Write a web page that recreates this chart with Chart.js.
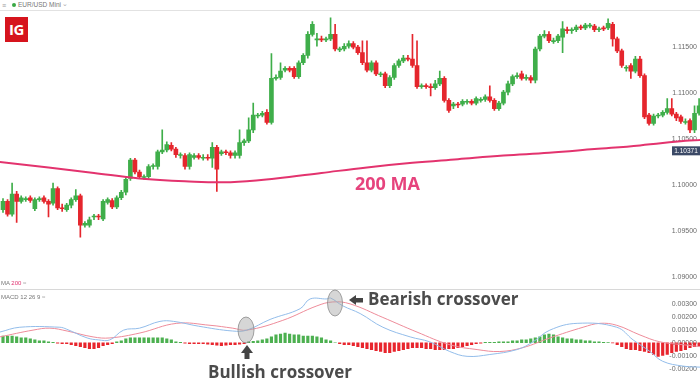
<!DOCTYPE html>
<html><head><meta charset="utf-8">
<script src="https://cdn.jsdelivr.net/npm/chart.js@4.4.1/dist/chart.umd.min.js"></script>
<style>
*{box-sizing:border-box}
html,body{margin:0;padding:0;background:#fff}
#wrap{position:relative;width:700px;height:379px;overflow:hidden;font-family:"Open Sans",Arial,sans-serif}
#cMain{position:absolute;left:0;top:11px}
#cMacd{position:absolute;left:0;top:290px}
.hdr{position:absolute;left:0;top:0;width:700px;height:11px;border-bottom:1px solid #e2e2e2}
.tiny{position:absolute;font-family:"Liberation Sans",Arial,sans-serif;font-size:6.5px;color:#777;white-space:nowrap;line-height:1}
.sep{position:absolute;left:0;top:289px;width:700px;height:1px;background:#d8d8d8}
.logo{position:absolute;left:5px;top:17px;width:23px;height:25px;background:#d6141d;color:#fff;font-family:"Open Sans",Arial,sans-serif;font-weight:700;font-size:15px;line-height:25px;text-align:center;letter-spacing:-0.5px}
.ann{position:absolute;font-family:"Open Sans",Arial,sans-serif;font-weight:700;line-height:1;white-space:nowrap}
svg{position:absolute;left:0;top:0}
</style></head>
<body><div id="wrap">
<div class="hdr"></div>
<div class="tiny" style="left:2px;top:2px;font-size:7px;color:#999">&#8801;</div>
<div style="position:absolute;left:12px;top:3px;width:4px;height:4px;border-radius:2px;background:#3aa845"></div>
<div class="tiny" style="left:18px;top:2px">EUR/USD Mini</div>
<div class="tiny" style="left:62px;top:1px;color:#aaa">&#8964;</div>
<div class="logo">IG</div>
<canvas id="cMain" width="700" height="278"></canvas>
<div class="sep"></div>
<canvas id="cMacd" width="700" height="89"></canvas>
<div class="tiny" style="left:1px;top:280px;font-size:6px">MA <span style="color:#e0336f">200</span> <span style="color:#aaa">&#8776;</span></div>
<div class="tiny" style="left:1px;top:294px;font-size:6px">MACD 12 26 9 <span style="color:#aaa">&#8776;</span></div>
<div class="ann" style="left:355px;top:174px;font-size:18px;color:#e6437d">200 MA</div>
<div class="ann" style="left:368px;top:290px;font-size:17px;color:#4b4b4b">Bearish crossover</div>
<div class="ann" style="left:208px;top:363px;font-size:17px;color:#4b4b4b">Bullish crossover</div>
<svg width="700" height="379">
<ellipse cx="246" cy="330" rx="8" ry="13" fill="rgba(165,165,165,0.45)" stroke="#8c8c8c" stroke-width="0.8"/>
<ellipse cx="335" cy="303" rx="7.5" ry="13" fill="rgba(165,165,165,0.45)" stroke="#8c8c8c" stroke-width="0.8"/>
<polygon points="241,353 247,345 253,353" fill="#444"/>
<rect x="244.5" y="352" width="5" height="7" fill="#444"/>
<polygon points="349,300 356,295 356,305" fill="#444"/>
<rect x="355" y="298" width="8" height="4.5" fill="#444"/>
</svg>
</div>
<script>
// ---- price data (EUR/USD) ----
const open = [
1.0973,1.0982,1.0968,1.0990,1.0982,1.0984,1.0986,1.0974,1.0984,1.0986,
1.0982,1.0980,1.0996,1.0975,1.0973,1.0978,1.0984,1.0988,1.0956,1.0956,
1.0965,1.0966,1.0963,1.0981,1.0983,1.0976,1.0986,1.0992,1.1007,1.1027,
1.1014,1.1008,1.1009,1.1020,1.1020,1.1036,1.1038,1.1043,1.1039,1.1032,
1.1032,1.1020,1.1030,1.1032,1.1029,1.1030,1.1029,1.1041,1.1034,1.1036,
1.1035,1.1032,1.1032,1.1046,1.1048,1.1060,1.1075,1.1076,1.1079,1.1068,
1.1116,1.1117,1.1125,1.1127,1.1127,1.1118,1.1133,1.1141,1.1164,1.1158,
1.1159,1.1158,1.1159,1.1164,1.1147,1.1148,1.1151,1.1154,1.1150,1.1144,
1.1133,1.1125,1.1133,1.1120,1.1121,1.1108,1.1117,1.1130,1.1135,1.1138,
1.1137,1.1130,1.1107,1.1108,1.1107,1.1106,1.1110,1.1116,1.1092,1.1086,
1.1088,1.1088,1.1090,1.1091,1.1089,1.1092,1.1093,1.1096,1.1092,1.1083,
1.1089,1.1101,1.1110,1.1118,1.1121,1.1116,1.1117,1.1114,1.1148,1.1162,
1.1164,1.1156,1.1157,1.1161,1.1169,1.1168,1.1169,1.1172,1.1171,1.1173,
1.1173,1.1169,1.1171,1.1171,1.1175,1.1159,1.1146,1.1127,1.1130,1.1124,
1.1137,1.1119,1.1076,1.1067,1.1075,1.1076,1.1079,1.1083,1.1077,1.1074,
1.1068,1.1070,1.1060,1.1078];
const high = [
1.0985,1.0984,1.1002,1.0993,1.0988,1.0987,1.0988,1.0986,1.0987,1.0988,
1.0984,1.1002,1.0998,1.0979,1.0980,1.0986,1.0995,1.0990,1.0960,1.0965,
1.0968,1.0968,1.0984,1.0986,1.0985,1.0988,1.0994,1.1008,1.1029,1.1029,
1.1016,1.1011,1.1022,1.1023,1.1038,1.1060,1.1047,1.1046,1.1041,1.1035,
1.1034,1.1035,1.1034,1.1034,1.1033,1.1033,1.1046,1.1043,1.1038,1.1038,
1.1037,1.1037,1.1060,1.1050,1.1073,1.1089,1.1078,1.1080,1.1082,1.1143,
1.1120,1.1133,1.1129,1.1129,1.1129,1.1135,1.1143,1.1167,1.1178,1.1165,
1.1162,1.1161,1.1182,1.1175,1.1150,1.1154,1.1157,1.1156,1.1152,1.1157,
1.1157,1.1135,1.1135,1.1123,1.1123,1.1119,1.1132,1.1137,1.1141,1.1141,
1.1164,1.1157,1.1110,1.1110,1.1110,1.1114,1.1124,1.1118,1.1094,1.1090,
1.1090,1.1093,1.1093,1.1093,1.1096,1.1095,1.1098,1.1108,1.1094,1.1091,
1.1103,1.1113,1.1120,1.1122,1.1124,1.1120,1.1119,1.1150,1.1164,1.1168,
1.1167,1.1160,1.1164,1.1178,1.1172,1.1171,1.1174,1.1174,1.1176,1.1176,
1.1175,1.1172,1.1173,1.1181,1.1177,1.1161,1.1148,1.1130,1.1132,1.1140,
1.1140,1.1121,1.1078,1.1077,1.1078,1.1081,1.1094,1.1094,1.1079,1.1076,
1.1072,1.1072,1.1086,1.1094];
const low = [
1.0970,1.0966,1.0966,1.0959,1.0980,1.0982,1.0981,1.0972,1.0982,1.0980,
1.0965,1.0978,1.0973,1.0971,1.0971,1.0975,1.0982,1.0943,1.0954,1.0954,
1.0962,1.0962,1.0961,1.0979,1.0974,1.0974,1.0984,1.0989,1.1005,1.1012,
1.1007,1.1006,1.1007,1.1017,1.1017,1.1034,1.1036,1.1037,1.1030,1.1029,
1.1017,1.1017,1.1028,1.1028,1.1027,1.1027,1.1019,1.0993,1.1032,1.1033,
1.1029,1.1029,1.1029,1.1043,1.1046,1.1057,1.1073,1.1074,1.1066,1.1066,
1.1114,1.1115,1.1123,1.1123,1.1116,1.1116,1.1131,1.1138,1.1162,1.1151,
1.1156,1.1156,1.1157,1.1146,1.1145,1.1146,1.1149,1.1148,1.1142,1.1131,
1.1123,1.1123,1.1119,1.1118,1.1106,1.1106,1.1115,1.1128,1.1133,1.1135,
1.1128,1.1105,1.1105,1.1105,1.1097,1.1104,1.1108,1.1090,1.1079,1.1083,
1.1084,1.1086,1.1088,1.1087,1.1087,1.1090,1.1091,1.1090,1.1081,1.1081,
1.1087,1.1098,1.1108,1.1116,1.1114,1.1114,1.1111,1.1111,1.1146,1.1160,
1.1155,1.1154,1.1155,1.1144,1.1165,1.1165,1.1167,1.1169,1.1169,1.1171,
1.1167,1.1167,1.1168,1.1169,1.1151,1.1144,1.1128,1.1124,1.1116,1.1122,
1.1117,1.1072,1.1065,1.1065,1.1073,1.1074,1.1077,1.1075,1.1070,1.1067,
1.1066,1.1057,1.1057,1.1076];
const close = [
1.0982,1.0968,1.0990,1.0982,1.0986,1.0985,1.0983,1.0984,1.0985,1.0982,
1.0979,1.0996,1.0975,1.0974,1.0978,1.0984,1.0988,1.0956,1.0958,1.0962,
1.0966,1.0965,1.0982,1.0984,1.0976,1.0986,1.0992,1.1006,1.1027,1.1014,
1.1009,1.1009,1.1020,1.1021,1.1036,1.1038,1.1044,1.1039,1.1033,1.1033,
1.1020,1.1033,1.1032,1.1030,1.1030,1.1029,1.1041,1.1017,1.1036,1.1035,
1.1032,1.1035,1.1046,1.1048,1.1060,1.1076,1.1076,1.1078,1.1068,1.1116,
1.1117,1.1124,1.1127,1.1125,1.1118,1.1133,1.1141,1.1164,1.1175,1.1159,
1.1158,1.1159,1.1164,1.1148,1.1148,1.1151,1.1154,1.1150,1.1144,1.1133,
1.1125,1.1133,1.1121,1.1121,1.1108,1.1117,1.1130,1.1135,1.1138,1.1137,
1.1130,1.1107,1.1108,1.1107,1.1106,1.1110,1.1116,1.1092,1.1081,1.1088,
1.1087,1.1091,1.1091,1.1089,1.1094,1.1093,1.1096,1.1092,1.1083,1.1089,
1.1101,1.1110,1.1118,1.1119,1.1116,1.1117,1.1114,1.1148,1.1162,1.1164,
1.1157,1.1157,1.1162,1.1170,1.1168,1.1169,1.1172,1.1171,1.1174,1.1174,
1.1169,1.1170,1.1170,1.1176,1.1159,1.1146,1.1130,1.1128,1.1124,1.1137,
1.1119,1.1074,1.1067,1.1075,1.1076,1.1079,1.1083,1.1077,1.1073,1.1069,
1.1069,1.1060,1.1078,1.1086];
// 200-period moving average, read at sample candles
const maIndex = [-0.7,10,20,30,40,50,60,70,80,90,100,110,120,130,140,150,153.3];
const maValue = [1.1025,1.1019,1.1013,1.1007,1.1004,1.1003,1.1007,1.1013,1.1019,1.1024,1.1028,1.1032,1.1035,1.1039,1.1043,1.1048,1.1049];
const priceTicks = [1.09,1.095,1.10,1.105,1.11,1.115];
const lastPrice = 1.10371;
// ---- MACD (12, 26, 9) ----
const histogram = [
0.00052,0.00052,0.00052,0.00045,0.00037,0.00037,0.00030,0.00022,0.00015,0.00015,
0.00007,0.00004,-0.00004,-0.00007,-0.00007,-0.00015,-0.00022,-0.00030,-0.00037,-0.00045,
-0.00045,-0.00037,-0.00022,-0.00015,-0.00007,0.00007,0.00015,0.00030,0.00037,0.00037,
0.00037,0.00037,0.00037,0.00037,0.00037,0.00037,0.00030,0.00022,0.00007,0.00004,
-0.00004,-0.00007,-0.00007,-0.00007,-0.00007,-0.00011,-0.00015,-0.00019,-0.00022,-0.00019,
-0.00015,-0.00015,-0.00011,-0.00007,0.00007,0.00011,0.00015,0.00022,0.00030,0.00045,
0.00060,0.00067,0.00075,0.00067,0.00060,0.00060,0.00052,0.00052,0.00052,0.00045,
0.00037,0.00022,0.00015,0,-0.00007,-0.00015,-0.00015,-0.00022,-0.00030,-0.00037,
-0.00045,-0.00052,-0.00060,-0.00067,-0.00075,-0.00075,-0.00067,-0.00060,-0.00052,-0.00045,
-0.00037,-0.00037,-0.00037,-0.00045,-0.00045,-0.00052,-0.00052,-0.00052,-0.00045,-0.00045,
-0.00037,-0.00030,-0.00022,-0.00015,-0.00007,-0.00004,0.00004,0.00004,0.00004,0.00007,
0.00007,0.00007,0.00015,0.00015,0.00022,0.00022,0.00030,0.00037,0.00045,0.00060,
0.00067,0.00060,0.00045,0.00037,0.00030,0.00030,0.00022,0.00022,0.00015,0.00015,
0.00007,0.00007,0.00004,0.00002,-0.00002,-0.00015,-0.00030,-0.00045,-0.00052,-0.00052,
-0.00060,-0.00067,-0.00075,-0.00090,-0.00104,-0.00097,-0.00090,-0.00075,-0.00067,-0.00060,
-0.00052,-0.00037,-0.00030,-0.00022];
const macdIndex = [-0.7,3.7,12.5,14,18.5,21,23.5,26.5,30,34.5,37.5,43,50.5,53.6,58.7,65.3,67.5,71.2,72,74.7,78.5,83.5,89.5,93.8,98.2,102,107,113,116.5,120.2,126.2,134.9,138.5,142.2,145,149.5,153.3];
const macdValue = [0.00082,0.00119,0.00119,0.00104,0.00037,0.00022,0.00022,0.00097,0.00112,0.00164,0.00164,0.00127,0.00090,0.00097,0.00179,0.00261,0.00336,0.00336,0.00343,0.00283,0.00224,0.00119,0.00045,0.00007,-0.00067,-0.00104,-0.00090,-0.00052,0.00007,0.00097,0.00149,0.00119,0.00022,-0.00067,-0.00142,-0.00179,-0.00187];
const signalIndex = [-0.7,6.6,10.3,14.1,19.8,23.5,30.1,38.2,45.5,50.5,53.6,61.5,69,72.5,76.3,83.5,91,98.2,104.2,109.2,114.3,120.2,127.5,131.2,134.9,140,144.4,149.5,153.3];
const signalValue = [0.00045,0.00097,0.00112,0.00090,0.00045,0.00037,0.00075,0.00149,0.00134,0.00112,0.00097,0.00172,0.00283,0.00313,0.00298,0.00194,0.00082,-0.00015,-0.00052,-0.00067,-0.00037,0.00037,0.00119,0.00149,0.00134,0.00060,0.00007,-0.00015,-0.00030];
const macdTicks = [-0.002,-0.001,0,0.001,0.002,0.003];

const GREEN = '#3fae4a', RED = '#e5262d', PINK = '#e3336e';
const idx = open.map((_, i) => i);
const candleColors = idx.map(i => close[i] >= open[i] ? GREEN : RED);
const xMin = -0.66, xMax = 153.2;

const tickStyle = {mirror:true, padding:-3, color:'#6a6a6a', font:{size:7, family:'Liberation Sans'},
  showLabelBackdrop:true, backdropColor:'rgba(255,255,255,0.9)', backdropPadding:{top:1,bottom:1,left:2,right:2}};

const tagPlugin = {id:'tag', afterDatasetsDraw(chart){
  const y = chart.scales.y.getPixelForValue(lastPrice);
  const c = chart.ctx; c.save();
  c.fillStyle = '#3b4966'; c.fillRect(chart.chartArea.right - 28, y - 4.5, 28, 9);
  c.fillStyle = '#fff'; c.font = '6.5px "Liberation Sans"'; c.textAlign = 'center'; c.textBaseline = 'middle';
  c.fillText(lastPrice.toFixed(5), chart.chartArea.right - 14, y + 0.5); c.restore();
}};

new Chart(document.getElementById('cMain'), {
  type: 'bar',
  data: { datasets: [
    {type:'line', data: maIndex.map((x,k)=>({x, y:maValue[k]})), borderColor:PINK, borderWidth:2, pointRadius:0, tension:0.4, order:0},
    {data: idx.map(i=>({x:i, y:[low[i], high[i]]})), backgroundColor:candleColors, barThickness:1, grouped:false, order:2},
    {data: idx.map(i=>({x:i, y:[open[i], close[i]]})), backgroundColor:candleColors, barThickness:4, grouped:false, minBarLength:1, order:1}
  ]},
  options: {
    responsive:false, animation:false, devicePixelRatio:1,
    layout:{padding:0},
    plugins:{legend:{display:false}, tooltip:{enabled:false}},
    scales:{
      x:{type:'linear', min:xMin, max:xMax, display:false, offset:false},
      y:{position:'right', min:1.08879, max:1.11881,
         afterFit:s=>{s.width=0},
         afterBuildTicks:s=>{s.ticks = priceTicks.map(v=>({value:v}))},
         grid:{display:false, drawTicks:false}, border:{display:false},
         ticks:Object.assign({callback:v=>Number(v).toFixed(5)}, tickStyle)}
    }
  },
  plugins:[tagPlugin]
});

new Chart(document.getElementById('cMacd'), {
  type: 'bar',
  data: { datasets: [
    {type:'line', data: macdIndex.map((x,k)=>({x, y:macdValue[k]})), borderColor:'#93bdea', borderWidth:1, pointRadius:0, tension:0.4, order:0},
    {type:'line', data: signalIndex.map((x,k)=>({x, y:signalValue[k]})), borderColor:'#ee8c9a', borderWidth:1, pointRadius:0, tension:0.4, order:1},
    {data: idx.map(i=>({x:i, y:histogram[i]})), backgroundColor: histogram.map(v=> v>=0 ? '#4cb050' : '#e8252d'), barThickness:2.5, order:2}
  ]},
  options: {
    responsive:false, animation:false, devicePixelRatio:1,
    layout:{padding:0},
    plugins:{legend:{display:false}, tooltip:{enabled:false}},
    scales:{
      x:{type:'linear', min:xMin, max:xMax, display:false, offset:false},
      y:{position:'right', min:-0.002686, max:0.003954,
         afterFit:s=>{s.width=0},
         afterBuildTicks:s=>{s.ticks = macdTicks.map(v=>({value:v}))},
         grid:{display:false, drawTicks:false}, border:{display:false},
         ticks:Object.assign({callback:v=>Number(v).toFixed(5)}, tickStyle)}
    }
  }
});
</script>
</body></html>
